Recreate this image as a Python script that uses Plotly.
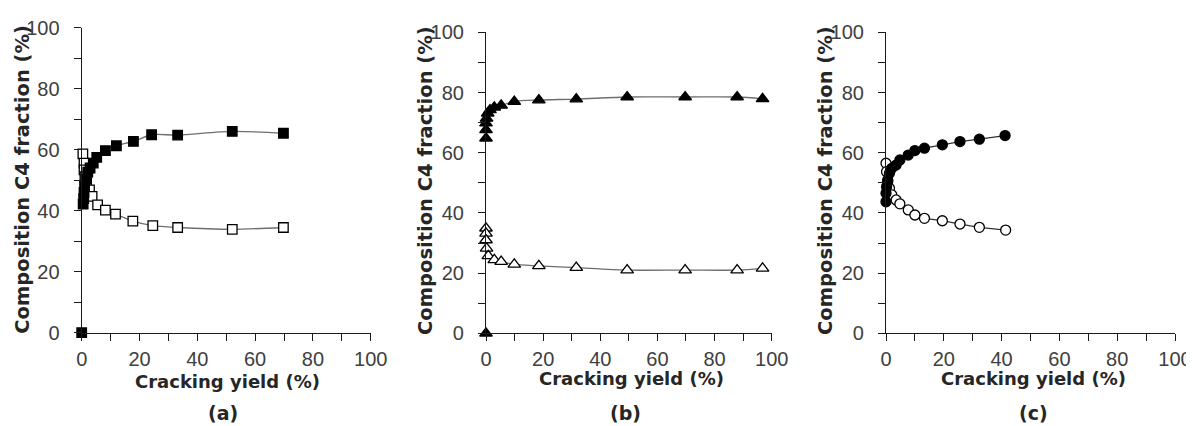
import plotly.graph_objects as go

# ---------------- data ----------------
# Panel (a): squares
a_fill_x = [0.5, 0.7, 0.8, 1.0, 1.4, 2.1, 2.9, 4.0, 5.2, 8.2, 12.0, 17.9, 24.2, 33.2, 52.1, 69.8]
a_fill_y = [42.2, 44.0, 46.0, 48.2, 50.4, 52.6, 54.0, 55.6, 57.5, 59.7, 61.3, 62.7, 64.9, 64.8, 66.0, 65.4]
a_open_x = [0.4, 0.8, 0.8, 1.1, 1.7, 2.7, 3.6, 5.5, 8.2, 11.7, 17.7, 24.6, 33.2, 52.1, 69.8]
a_open_y = [58.6, 55.6, 53.4, 51.2, 49.0, 46.8, 44.7, 41.9, 40.2, 38.9, 36.6, 35.1, 34.5, 33.9, 34.5]
a_zero_x = [0.0]
a_zero_y = [0.0]

# Panel (b): triangles
b_fill_x = [0.0, 0.0, 0.0, 0.2, 0.6, 1.4, 2.9, 5.3, 9.9, 18.5, 31.6, 49.4, 69.7, 87.9, 96.8]
b_fill_y = [64.8, 67.6, 69.8, 71.4, 73.1, 74.2, 75.1, 75.7, 77.0, 77.5, 77.8, 78.5, 78.5, 78.5, 77.9]
b_open_x = [0.0, 0.0, 0.0, 0.2, 0.8, 2.9, 5.3, 9.9, 18.5, 31.6, 49.4, 69.7, 87.9, 96.8]
b_open_y = [34.9, 33.2, 31.0, 28.2, 25.7, 24.4, 23.8, 22.9, 22.4, 21.8, 21.0, 21.0, 21.0, 21.6]
b_zero_x = [0.0]
b_zero_y = [0.0]

# Panel (c): circles
c_fill_x = [0.0, 0.0, 0.2, 0.6, 1.2, 2.0, 3.5, 4.8, 7.7, 10.0, 13.3, 19.5, 25.6, 32.3, 41.2]
c_fill_y = [43.7, 46.5, 48.7, 50.9, 53.2, 54.8, 55.9, 57.6, 59.2, 60.7, 61.5, 62.6, 63.7, 64.5, 65.7]
c_open_x = [0.0, 0.2, 0.6, 1.2, 2.0, 3.5, 4.8, 7.7, 10.0, 13.3, 19.5, 25.6, 32.3, 41.4]
c_open_y = [56.5, 53.7, 50.4, 48.2, 46.0, 44.3, 43.0, 41.0, 39.3, 38.2, 37.4, 36.3, 35.2, 34.3]

tick_vals = list(range(0, 101, 10))
tick_text = [str(v) if v % 20 == 0 else "" for v in tick_vals]

x_title = "Cracking yield (%)"
y_title = "Composition C4 fraction (%)"
panel_labels = ["(a)", "(b)", "(c)"]

# ---------------- layout geometry (window pixels) ----------------
W, H = 1194, 426
OFF = 8  # default page body margin shifts the figure by 8 px

def px(x):
    return (x - OFF) / W

def py(y):
    return 1 - (y - OFF) / H

panels = [
    dict(x0=81.7, x1=370.7, ytop=27.7, ybot=332.7),
    dict(x0=486.0, x1=771.7, ytop=32.3, ybot=333.3),
    dict(x0=886.0, x1=1175.0, ytop=32.3, ybot=333.3),
]

AX = "#1a1a1a"
TXT = "#262626"
TICKF = dict(family="Liberation Sans, Arial, sans-serif", size=20, color="#404040")
TITLEF = dict(family="DejaVu Sans, Verdana, sans-serif", size=18, color=TXT)

fig = go.Figure()

def add_series(idx, x, y, symbol, filled, line, line_color, spline, size=10):
    xa = "x" if idx == 0 else f"x{idx+1}"
    ya = "y" if idx == 0 else f"y{idx+1}"
    fig.add_trace(go.Scatter(
        x=x, y=y, xaxis=xa, yaxis=ya,
        mode="lines+markers" if line else "markers",
        line=dict(color=line_color, width=1.3, shape="spline" if spline else "linear", smoothing=0.8),
        marker=dict(symbol=symbol, size=size,
                    color="black" if filled else "white",
                    line=dict(color="black", width=1.3)),
        cliponaxis=False, showlegend=False, hoverinfo="x+y",
    ))

# panel a
add_series(0, a_open_x, a_open_y, "square", False, True, "#6e6e6e", True, 9.5)
add_series(0, a_fill_x, a_fill_y, "square", True, True, "#6e6e6e", True, 9.5)
add_series(0, a_zero_x, a_zero_y, "square", True, False, "#6e6e6e", False, 9.5)
# panel b
add_series(1, b_open_x, b_open_y, "triangle-up", False, True, "#6e6e6e", True, 11)
add_series(1, b_fill_x, b_fill_y, "triangle-up", True, True, "#6e6e6e", True, 11)
add_series(1, b_zero_x, b_zero_y, "triangle-up", True, False, "#6e6e6e", False, 11)
# panel c
add_series(2, c_open_x, c_open_y, "circle", False, True, "#333333", False, 10)
add_series(2, c_fill_x, c_fill_y, "circle", True, True, "#333333", False, 10)

layout = dict(
    width=W, height=H,
    margin=dict(l=0, r=0, t=0, b=0, autoexpand=False),
    paper_bgcolor="white", plot_bgcolor="white",
    showlegend=False,
)

annotations = []
for i, p in enumerate(panels):
    sfx = "" if i == 0 else str(i + 1)
    xdom = [px(p["x0"]), px(p["x1"])]
    ydom = [py(p["ybot"]), py(p["ytop"])]
    common = dict(
        range=[0, 100], tickmode="array", tickvals=tick_vals, ticktext=tick_text,
        ticks="outside", ticklen=7, tickwidth=1, tickcolor=AX,
        showline=True, linecolor=AX, linewidth=1.2, automargin=False,
        showgrid=False, zeroline=False, tickfont=TICKF, fixedrange=True,
    )
    layout["xaxis" + sfx] = dict(common, domain=xdom, anchor="y" + sfx, ticklabelstandoff=1)
    layout["yaxis" + sfx] = dict(common, domain=ydom, anchor="x" + sfx, ticklabelstandoff=10)

# axis titles and panel labels (pixel positions from the reference)
xt_pos = [(227, 381), (631.7, 378), (1033, 378)]
yt_pos = [(21.7, 179), (425, 181), (825, 181)]
pl_pos = [(222.7, 413), (625.7, 413), (1033, 413)]
for i in range(3):
    annotations.append(dict(text="<b>%s</b>" % x_title, x=px(xt_pos[i][0]), y=py(xt_pos[i][1]),
                            xref="paper", yref="paper", showarrow=False, font=TITLEF,
                            xanchor="center", yanchor="middle"))
    annotations.append(dict(text="<b>%s</b>" % y_title, x=px(yt_pos[i][0]), y=py(yt_pos[i][1]),
                            xref="paper", yref="paper", showarrow=False, font=dict(TITLEF, size=19.5),
                            textangle=-90, xanchor="center", yanchor="middle"))
    annotations.append(dict(text="<b>%s</b>" % panel_labels[i], x=px(pl_pos[i][0]), y=py(pl_pos[i][1]),
                            xref="paper", yref="paper", showarrow=False, font=dict(TITLEF, size=19),
                            xanchor="center", yanchor="middle"))
layout["annotations"] = annotations

fig.update_layout(**layout)
fig.write_html("out.html")
